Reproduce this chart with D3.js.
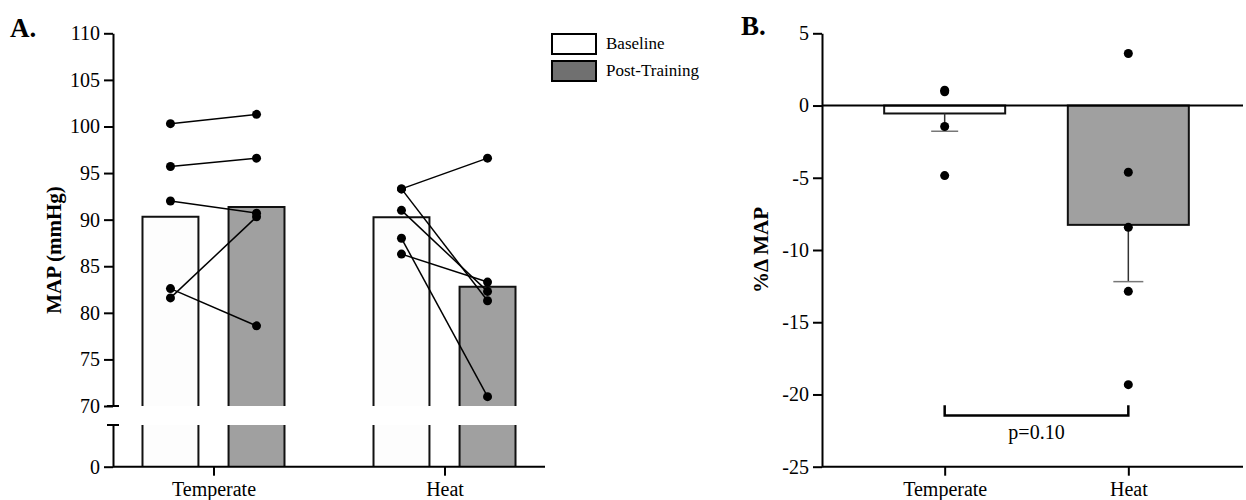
<!DOCTYPE html>
<html>
<head>
<meta charset="utf-8">
<script src="https://cdn.jsdelivr.net/npm/d3@7"></script>
<style>
  body { margin: 0; background: #fff; }
  svg { display: block; font-family: "Liberation Serif", "Times New Roman", serif; }
</style>
</head>
<body>
<div id="chart"></div>
<script>
(function () {
  "use strict";

  // ---- data ----
  var groups = ["Temperate", "Heat"];
  var series = ["Baseline", "Post-Training"];
  // panel A: group means (mmHg)
  var meanBaseline = [90.3, 90.25];
  var meanPost = [91.35, 82.8];
  // panel A: individual subjects, paired by index
  var temperateBaseline = [100.3, 95.7, 92.0, 81.6, 82.6];
  var temperatePost = [101.3, 96.6, 90.7, 90.3, 78.6];
  var heatBaseline = [93.3, 93.3, 91.0, 88.0, 86.3];
  var heatPost = [96.6, 81.3, 82.3, 71.0, 83.3];
  var ticksA = [70, 75, 80, 85, 90, 95, 100, 105, 110];
  // panel B: percent change in MAP
  var pctMean = [-0.55, -8.26];
  var pctSem = [1.23, 3.93];
  var pctTemperate = [1.06, 0.95, -1.45, -4.85];
  var pctHeat = [3.6, -4.62, -8.43, -12.86, -19.32];
  var ticksB = [5, 0, -5, -10, -15, -20, -25];
  var pLabel = "p=0.10";

  var W = 1246, H = 500;
  var svg = d3.select("#chart").append("svg").attr("width", W).attr("height", H);

  // ================= panel A =================
  var ax0 = 113, ax1 = 545, baseY = 466.7;
  var yU = d3.scaleLinear().domain([70, 110]).range([406, 33.3]);
  var yL = d3.scaleLinear().domain([0, 5]).range([baseY, 425]);
  var xA = d3.scalePoint().domain(groups).range([ax0, ax1]).padding(0.435);
  var xSub = d3.scaleBand().domain(series).range([-71, 71]).paddingInner(0.35);
  var fills = { "Baseline": "#fdfdfd", "Post-Training": "#a0a0a0" };

  var gA = svg.append("g");

  var barsA = [];
  groups.forEach(function (g, i) {
    barsA.push({ g: g, s: "Baseline", v: meanBaseline[i] });
    barsA.push({ g: g, s: "Post-Training", v: meanPost[i] });
  });

  barsA.forEach(function (d) {
    var x = xA(d.g) + xSub(d.s), w = xSub.bandwidth();
    // upper segment
    gA.append("rect").attr("x", x).attr("y", yU(d.v)).attr("width", w)
      .attr("height", yU.range()[0] - yU(d.v)).attr("fill", fills[d.s]);
    gA.append("path")
      .attr("d", "M" + x + "," + yU.range()[0] + "V" + yU(d.v) + "H" + (x + w) + "V" + yU.range()[0])
      .attr("fill", "none").attr("stroke", "#111").attr("stroke-width", 2);
    // lower segment
    gA.append("rect").attr("x", x).attr("y", yL.range()[1]).attr("width", w)
      .attr("height", baseY - yL.range()[1]).attr("fill", fills[d.s]);
    gA.append("path")
      .attr("d", "M" + x + "," + yL.range()[1] + "V" + baseY + "M" + (x + w) + "," + yL.range()[1] + "V" + baseY)
      .attr("fill", "none").attr("stroke", "#111").attr("stroke-width", 2);
  });

  // paired subject lines + points
  var pairs = [
    { g: "Temperate", a: temperateBaseline, b: temperatePost },
    { g: "Heat", a: heatBaseline, b: heatPost }
  ];
  pairs.forEach(function (p) {
    var xa = xA(p.g) + xSub("Baseline") + xSub.bandwidth() / 2;
    var xb = xA(p.g) + xSub("Post-Training") + xSub.bandwidth() / 2;
    p.a.forEach(function (v, i) {
      gA.append("line").attr("x1", xa).attr("y1", yU(v)).attr("x2", xb).attr("y2", yU(p.b[i]))
        .attr("stroke", "#000").attr("stroke-width", 1.5);
    });
    p.a.concat(p.b).forEach(function (v, i) {
      gA.append("circle").attr("cx", i < p.a.length ? xa : xb).attr("cy", yU(v))
        .attr("r", 4.5).attr("fill", "#000");
    });
  });

  // axes A
  gA.append("g").attr("transform", "translate(" + ax0 + ",0)")
    .call(d3.axisLeft(yU).tickValues(ticksA).tickSize(9).tickSizeOuter(0).tickPadding(4));
  gA.append("g").attr("transform", "translate(" + ax0 + ",0)")
    .call(d3.axisLeft(yL).tickValues([0]).tickFormat(d3.format("d")).tickSize(9).tickSizeOuter(0).tickPadding(4));
  var xAxisA = gA.append("g").attr("transform", "translate(0," + baseY + ")")
    .call(d3.axisBottom(xA).tickSize(9).tickSizeOuter(0).tickPadding(6));
  xAxisA.select(".domain").attr("d", "M" + ax0 + ",0H" + ax1);

  // break caps
  [yU.range()[0], yL.range()[1]].forEach(function (y) {
    gA.append("line").attr("x1", ax0 - 6).attr("x2", ax0 + 6).attr("y1", y).attr("y2", y)
      .attr("stroke", "#000").attr("stroke-width", 2);
  });

  gA.append("text").attr("transform", "translate(61,250) rotate(-90)")
    .attr("text-anchor", "middle").attr("font-weight", "bold").attr("font-size", 21)
    .text("MAP (mmHg)");
  gA.append("text").attr("x", 10).attr("y", 37).attr("font-weight", "bold")
    .attr("font-size", 27).text("A.");

  // legend
  var legendFills = { "Baseline": "#ffffff", "Post-Training": "#707070" };
  var leg = gA.append("g").attr("transform", "translate(552,34)");
  series.forEach(function (s, i) {
    leg.append("rect").attr("x", 0).attr("y", i * 27).attr("width", 44).attr("height", 20)
      .attr("fill", legendFills[s]).attr("stroke", "#000").attr("stroke-width", 2);
    leg.append("text").attr("x", 54).attr("y", i * 27 + 15).attr("font-size", 17).text(s);
  });

  // ================= panel B =================
  var bx0 = 822, bx1 = 1243;
  var yB = d3.scaleLinear().domain([-25, 5]).range([466.7, 33.3]);
  var xB = d3.scalePoint().domain(groups).range([bx0, 1251]).padding(0.668);
  var barW = 121;
  var gB = svg.append("g");
  var bFills = ["#ffffff", "#a0a0a0"];

  groups.forEach(function (g, i) {
    gB.append("rect").attr("x", xB(g) - barW / 2).attr("y", yB(0)).attr("width", barW)
      .attr("height", yB(pctMean[i]) - yB(0)).attr("fill", bFills[i])
      .attr("stroke", "#111").attr("stroke-width", 2);
    // error bar (down only)
    var lo = pctMean[i] - pctSem[i];
    gB.append("line").attr("x1", xB(g)).attr("x2", xB(g)).attr("y1", yB(pctMean[i])).attr("y2", yB(lo))
      .attr("stroke", "#333").attr("stroke-width", 1.5);
    var capW = i === 0 ? 27 : 30;
    gB.append("line").attr("x1", xB(g) - capW / 2).attr("x2", xB(g) + capW / 2)
      .attr("y1", yB(lo)).attr("y2", yB(lo)).attr("stroke", "#777").attr("stroke-width", 1.5);
  });

  [pctTemperate, pctHeat].forEach(function (vals, i) {
    vals.forEach(function (v) {
      gB.append("circle").attr("cx", xB(groups[i])).attr("cy", yB(v)).attr("r", 4.5).attr("fill", "#000");
    });
  });

  gB.append("g").attr("transform", "translate(" + bx0 + ",0)")
    .call(d3.axisLeft(yB).tickValues(ticksB).tickSize(9).tickSizeOuter(0).tickPadding(4)
      .tickFormat(function (d) { return d < 0 ? "-" + Math.abs(d) : d; }));
  var xAxisB = gB.append("g").attr("transform", "translate(0," + yB(-25) + ")")
    .call(d3.axisBottom(xB).tickSize(9).tickSizeOuter(0).tickPadding(6));
  xAxisB.select(".domain").attr("d", "M" + bx0 + ",0H" + bx1);

  // zero line
  gB.append("line").attr("x1", bx0).attr("x2", bx1).attr("y1", yB(0)).attr("y2", yB(0))
    .attr("stroke", "#000").attr("stroke-width", 2);

  // significance bracket
  var brY = yB(-21.45), brTop = yB(-20.75);
  gB.append("path")
    .attr("d", "M" + xB(groups[0]) + "," + brTop + "V" + brY + "H" + xB(groups[1]) + "V" + brTop)
    .attr("fill", "none").attr("stroke", "#000").attr("stroke-width", 2.5);
  gB.append("text").attr("x", (xB(groups[0]) + xB(groups[1])) / 2).attr("y", 439)
    .attr("text-anchor", "middle").attr("font-size", 20).text(pLabel);

  gB.append("text").attr("transform", "translate(768,250) rotate(-90)")
    .attr("text-anchor", "middle").attr("font-weight", "bold").attr("font-size", 21)
    .text("%\u0394 MAP");
  gB.append("text").attr("x", 741).attr("y", 35).attr("font-weight", "bold")
    .attr("font-size", 27).text("B.");

  // axis styling
  svg.selectAll(".domain").attr("stroke", "#000").attr("stroke-width", 2);
  svg.selectAll(".tick line").attr("stroke", "#000").attr("stroke-width", 2);
  svg.selectAll(".tick text").attr("font-size", 20).attr("fill", "#000")
    .style("font-family", "'Liberation Serif', 'Times New Roman', serif");
})();
</script>
</body>
</html>
